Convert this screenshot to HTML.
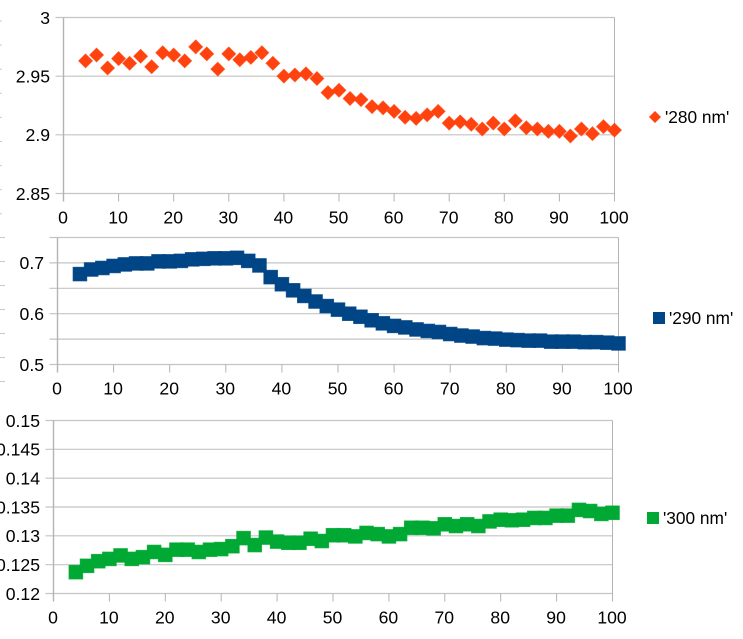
<!DOCTYPE html>
<html lang="en">
<head>
<meta charset="utf-8">
<title>Absorbance charts</title>
<style>
html,body{margin:0;padding:0;background:#fff;}
body{width:743px;height:639px;overflow:hidden;}
svg{display:block;}
text{font-family:"Liberation Sans",sans-serif;font-size:17.6px;fill:#000;}
</style>
</head>
<body>
<svg id="chart" width="743" height="639" viewBox="0 0 743 639" xmlns="http://www.w3.org/2000/svg"></svg>
<script>
const xValues = [4,6,8,10,12,14,16,18,20,22,24,26,28,30,32,34,36,38,40,42,44,46,48,50,52,54,56,58,60,62,64,66,68,70,72,74,76,78,80,82,84,86,88,90,92,94,96,98,100];
const xTicks = [0,10,20,30,40,50,60,70,80,90,100];
const series280 = [2.963,2.968,2.957,2.965,2.961,2.967,2.958,2.970,2.968,2.963,2.975,2.969,2.956,2.969,2.964,2.966,2.970,2.961,2.950,2.951,2.952,2.948,2.936,2.938,2.931,2.930,2.924,2.923,2.920,2.915,2.914,2.917,2.920,2.910,2.911,2.909,2.905,2.910,2.905,2.912,2.906,2.905,2.903,2.903,2.899,2.905,2.901,2.907,2.904];
const series290 = [0.678,0.687,0.690,0.694,0.697,0.699,0.699,0.703,0.703,0.704,0.707,0.708,0.709,0.709,0.710,0.704,0.695,0.672,0.658,0.646,0.635,0.624,0.615,0.608,0.600,0.594,0.587,0.581,0.576,0.573,0.569,0.566,0.564,0.560,0.557,0.555,0.552,0.551,0.549,0.548,0.547,0.547,0.545,0.545,0.545,0.544,0.544,0.543,0.5415];
const series300 = [0.1237,0.1248,0.1256,0.1260,0.1266,0.1260,0.1263,0.1272,0.1267,0.1276,0.1276,0.1272,0.1276,0.1277,0.1282,0.1296,0.1284,0.1297,0.1290,0.1288,0.1288,0.1295,0.1291,0.1301,0.1301,0.1299,0.1305,0.1303,0.1299,0.1303,0.1314,0.1314,0.1313,0.1320,0.1317,0.1320,0.1317,0.1325,0.1328,0.1327,0.1328,0.1331,0.1331,0.1335,0.1335,0.1345,0.1343,0.1338,0.1340];
const yTicks280 = [2.85,2.9,2.95,3];
const yTicks290 = [0.5,0.55,0.6,0.65,0.7,0.75];
const yLabels290 = ['0.5','','0.6','','0.7',''];
const yLabels280 = ['2.85','2.9','2.95','3'];
const yTicks300 = [0.12,0.125,0.13,0.135,0.14,0.145,0.15];
const yLabels300 = ['0.12','0.125','0.13','0.135','0.14','0.145','0.15'];
const edgeMarksUpper = [0,1,2,3,4,5,6,7,8];
const edgeMarksLower = [0,1,2,3,4,5,6];

const NS = 'http://www.w3.org/2000/svg';
const root = document.getElementById('chart');
const GRID = '#c4c4c4';
const AXIS = '#b3b3b3';

function make(tag, attrs, parent) {
  const el = document.createElementNS(NS, tag);
  for (const k in attrs) el.setAttribute(k, attrs[k]);
  parent.appendChild(el);
  return el;
}

function drawChart(cfg) {
  const sx = v => cfg.left + (v - 0) / 100 * (cfg.right - cfg.left);
  const sy = v => cfg.bottom - (v - cfg.yMin) / (cfg.yMax - cfg.yMin) * (cfg.bottom - cfg.top);

  const g = make('g', {}, root);
  
  

  // horizontal gridlines + y ticks + labels
  cfg.yTicks.forEach((t, i) => {
    const y = sy(t);
    const line = make('line', {x1: cfg.left - 8, x2: cfg.right, y1: y, y2: y, stroke: GRID, 'stroke-width': 1.2}, g);
    
    
    if (cfg.yLabels[i]) {
      const label = make('text', {x: cfg.left - 13.5, y: y + 6.3, 'text-anchor': 'end'}, g);
      
      
      label.textContent = cfg.yLabels[i];
    }
  });

  // x ticks + labels
  xTicks.forEach(t => {
    const x = sx(t);
    const isEdge = t === 0 || t === 100;
    const tick = make('line', {x1: x, x2: x, y1: isEdge ? cfg.top : cfg.bottom, y2: cfg.bottom + 8, stroke: AXIS, 'stroke-width': t === 0 ? 1.4 : 1}, g);
    
    
    const label = make('text', {x: x - 0.5, y: cfg.bottom + 29.8, 'text-anchor': 'middle'}, g);
    
    
    label.textContent = t;
  });

  // markers
  const marks = make('g', {fill: cfg.color, stroke: cfg.color, 'stroke-width': 1, 'stroke-opacity': 0.8}, g);
  
  
  cfg.values.forEach((v, i) => {
    const cx = sx(xValues[i]);
    const cy = sy(v);
    const r = cfg.size;
    let m;
    if (cfg.marker === 'diamond') {
      m = make('polygon', {points: [cx, cy - r, cx + r, cy, cx, cy + r, cx - r, cy].join(' ')}, marks);
    } else {
      m = make('rect', {x: cx - r, y: cy - r, width: 2 * r, height: 2 * r}, marks);
    }
    
    
  });

  // legend
  const lg = make('g', {}, g);
  
  
  let sym;
  if (cfg.marker === 'diamond') {
    const c = cfg.legendX, d = cfg.legendY;
    sym = make('polygon', {points: [c, d - 6, c + 6, d, c, d + 6, c - 6, d].join(' '), fill: cfg.color}, lg);
  } else {
    sym = make('rect', {x: cfg.legendX - 6, y: cfg.legendY - 6, width: 12, height: 12, fill: cfg.color}, lg);
  }
  
  
  const txt = make('text', {x: cfg.legendX + 10, y: cfg.legendY + 6, style: 'font-size:17.3px'}, lg);
  
  
  txt.textContent = cfg.legend;
}

edgeMarksUpper.forEach(i => {
  const mark = make('rect', {x: 0, y: 20.5 + i * 24.1, width: 1.5, height: 1, fill: '#bdbdbd'}, root);
  
  
});
edgeMarksLower.forEach(i => {
  const mark = make('rect', {x: 0, y: 237 + i * 24, width: 5, height: 1, fill: '#c8c8c8'}, root);
  
  
});

drawChart({name: '280-nm', left: 63.5, right: 614.5, top: 17.5, bottom: 193.5, yMin: 2.85, yMax: 3,
  yTicks: yTicks280, yLabels: yLabels280, values: series280, color: '#ff420e', marker: 'diamond', size: 6.8,
  legend: "'280 nm'", legendX: 655, legendY: 117});
drawChart({name: '290-nm', left: 57.5, right: 618.5, top: 237.5, bottom: 364.5, yMin: 0.5, yMax: 0.75,
  yTicks: yTicks290, yLabels: yLabels290, values: series290, color: '#004586', marker: 'square', size: 6.8,
  legend: "'290 nm'", legendX: 659, legendY: 318});
drawChart({name: '300-nm', left: 53.5, right: 612.5, top: 420.5, bottom: 593.5, yMin: 0.12, yMax: 0.15,
  yTicks: yTicks300, yLabels: yLabels300, values: series300, color: '#00a933', marker: 'square', size: 6.8,
  legend: "'300 nm'", legendX: 653, legendY: 518});
</script>
</body>
</html>
